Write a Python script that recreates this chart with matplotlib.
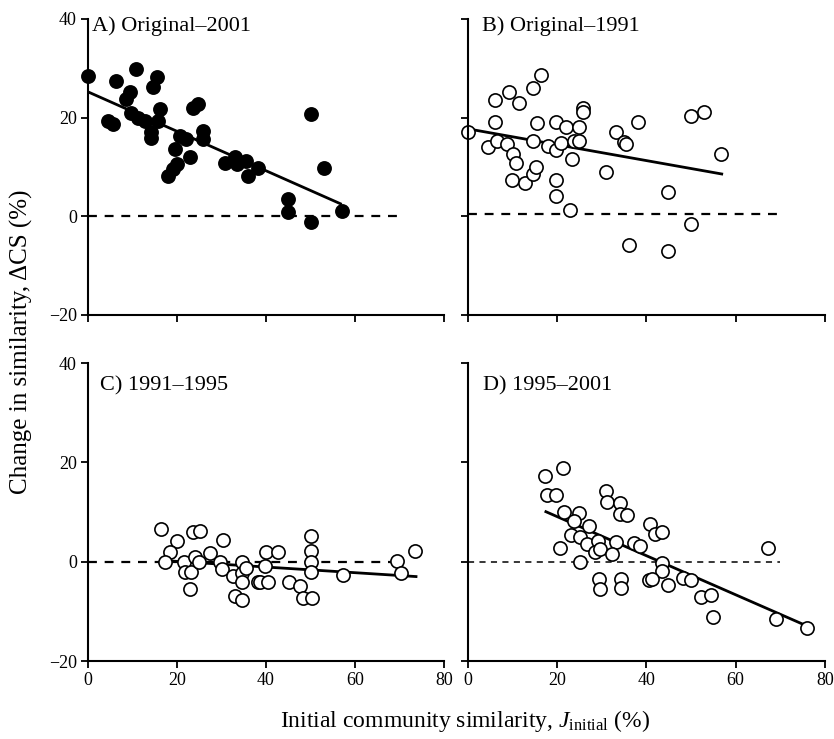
import matplotlib
matplotlib.use('Agg')
import matplotlib.pyplot as plt
import numpy as np

plt.rcParams['font.family'] = ['Liberation Serif', 'DejaVu Serif']
plt.rcParams['mathtext.fontset'] = 'custom'
plt.rcParams['mathtext.rm'] = 'Liberation Serif'
plt.rcParams['mathtext.it'] = 'Liberation Serif:italic'

# panel A: Original-2001 (filled)
a_x = [0, 6.4, 10.7, 15.4, 14.6, 9.4, 8.6, 4.5, 5.6, 9.75, 11.25, 12.75, 15.75, 16.1,
       14.25, 14.25, 20.6, 22.1, 19.5, 22.9, 19.9, 18.0, 19.1, 23.6, 24.75, 25.9, 25.9,
       30.75, 33.0, 33.4, 35.6, 36.0, 38.25, 45.0, 45.0, 50.0, 50.0, 53.0, 57.0]
a_y = [28.5, 27.5, 29.8, 28.3, 26.1, 25.2, 23.7, 19.3, 18.6, 21.0, 20.0, 19.3, 19.3, 21.7,
       17.0, 15.9, 16.3, 15.6, 13.6, 11.9, 10.5, 8.1, 9.5, 22.0, 22.7, 17.3, 15.6,
       10.8, 11.9, 10.5, 11.2, 8.1, 9.8, 3.4, 0.9, 20.7, -1.2, 9.8, 1.0]
a_fit = ([0, 57], [25.2, 2.4])

# panel B: Original-1991
b_x = [0, 6.0, 9.2, 11.4, 14.6, 16.4, 6.0, 4.5, 6.5, 8.7, 10.2, 10.7, 9.9, 12.9, 14.7,
       15.3, 14.6, 15.5, 18.0, 19.7, 19.7, 20.9, 21.9, 19.7, 19.7, 23.0, 23.4, 23.7, 24.9,
       24.9, 25.9, 25.9, 31.0, 33.1, 34.9, 35.5, 38.1, 36.1, 44.9, 44.9, 49.9, 52.9, 49.9, 56.8]
b_y = [17.0, 23.5, 25.2, 23.0, 26.0, 28.7, 19.0, 14.0, 15.3, 14.7, 12.7, 10.7, 7.3, 6.8, 8.5,
       10.0, 15.3, 18.8, 14.3, 19.0, 13.5, 14.8, 18.1, 7.3, 4.1, 1.2, 11.5, 15.3, 15.3,
       18.1, 22.0, 21.2, 9.0, 17.1, 15.0, 14.7, 19.0, -5.9, 4.8, -7.0, 20.3, 21.1, -1.5, 12.5]
b_fit = ([0, 57.2], [17.7, 8.5])

# panel C: 1991-1995
c_x = [16.5, 20.0, 18.5, 17.25, 23.6, 25.1, 21.5, 21.75, 23.25, 23.0, 24.0, 25.0, 27.5,
       30.4, 29.6, 30.0, 32.5, 33.0, 34.5, 34.7, 34.7, 34.7, 35.6, 38.25, 38.6, 40.5, 40.1,
       39.75, 42.75, 45.2, 47.6, 48.2, 50.4, 50.1, 50.1, 50.1, 50.1, 57.2, 69.4, 70.3, 73.5]
c_y = [6.6, 4.1, 2.0, -0.1, 6.0, 6.2, 0.0, -2.0, -2.0, -5.4, 0.9, -0.1, 1.7,
       4.4, -0.1, -1.5, -2.9, -6.8, -7.8, -0.1, -2.2, -4.0, -1.2, -4.0, -4.0, -4.0, 1.9,
       -0.8, 2.0, -4.0, -4.9, -7.3, -7.2, 5.1, 2.1, 0.0, -2.0, -2.7, 0.1, -2.3, 2.2]
c_fit = ([16.1, 74], [0.3, -3.0])

# panel D: 1995-2001
d_x = [17.2, 21.3, 17.7, 19.8, 21.5, 25.0, 23.7, 27.1, 23.2, 25.2, 26.7, 29.2, 28.4, 29.5,
       20.6, 25.2, 31.0, 31.2, 34.2, 34.2, 35.7, 33.3, 32.4, 37.2, 38.5, 29.4, 29.5, 34.4,
       34.4, 40.9, 41.9, 43.4, 43.4, 43.4, 40.7, 41.3, 44.9, 48.2, 50.1, 52.2, 54.6, 55.0,
       67.3, 69.0, 75.9]
d_y = [17.2, 18.8, 13.5, 13.5, 10.0, 9.8, 8.3, 7.3, 5.4, 4.9, 3.5, 4.2, 2.0, 2.6,
       2.7, 0.0, 14.2, 12.0, 11.8, 9.6, 9.4, 3.9, 1.5, 3.7, 3.2, -3.4, -5.5, -3.4,
       -5.3, 7.7, 5.6, 5.9, -0.2, -1.9, -3.7, -3.4, -4.7, -3.3, -3.7, -7.1, -6.6, -11.2,
       2.8, -11.5, -13.4]
d_fit = ([17.2, 75.9], [10.2, -12.9])

panels = [
    ('A) Original\u20132001', a_x, a_y, a_fit, True, 0.0, 0.011, 0.975, 1.6),
    ('B) Original\u20131991', b_x, b_y, b_fit, False, 0.5, 0.04, 0.975, 1.6),
    ('C) 1991\u20131995', c_x, c_y, c_fit, False, 0.0, 0.034, 0.925, 1.6),
    ('D) 1995\u20132001', d_x, d_y, d_fit, False, 0.0, 0.042, 0.925, 1.1),
]
boxes = [
    [0.1055, 0.574, 0.427, 0.4005],
    [0.561, 0.574, 0.428, 0.4005],
    [0.1055, 0.1055, 0.427, 0.403],
    [0.561, 0.1055, 0.428, 0.403],
]

fig = plt.figure(figsize=(8.34, 7.39), dpi=100)

for i, (title, xs, ys, fit, filled, zero_y, tx, ty, dash_lw) in enumerate(panels):
    ax = fig.add_axes(boxes[i])
    ax.plot([0, 70], [zero_y, zero_y], color='black', lw=dash_lw, ls=(0, (4, 3.5)))
    ax.plot(fit[0], fit[1], color='black', lw=2.0, solid_capstyle='butt')
    face = 'black' if filled else 'white'
    ax.plot(xs, ys, 'o', ms=9.5, mfc=face, mec='black', mew=1.2, clip_on=False)
    ax.set_xlim(0, 80)
    ax.set_ylim(-20, 40)
    ax.set_xticks([0, 20, 40, 60, 80])
    ax.set_yticks([-20, 0, 20, 40])
    ax.set_yticklabels(['\u221220', '0', '20', '40'])
    for s in ['top', 'right']:
        ax.spines[s].set_visible(False)
    for s in ['left', 'bottom']:
        ax.spines[s].set_linewidth(1.5)
    ax.tick_params(direction='out', length=5, width=1.3, labelsize=13, pad=3)
    if i < 2:
        ax.tick_params(labelbottom=False)
    if i % 2 == 1:
        ax.tick_params(labelleft=False)
    ax.text(tx, ty, title, transform=ax.transAxes, fontsize=16, va='center', ha='left')

fig.text(0.026, 0.537, 'Change in similarity, \u0394CS (%)', rotation=90,
         fontsize=18, ha='center', va='center')
fig.text(0.558, 0.024, r'Initial community similarity, $\mathit{J}_{\mathrm{initial}}$ (%)',
         fontsize=17, ha='center', va='center')

plt.savefig('out.png', dpi=100)
